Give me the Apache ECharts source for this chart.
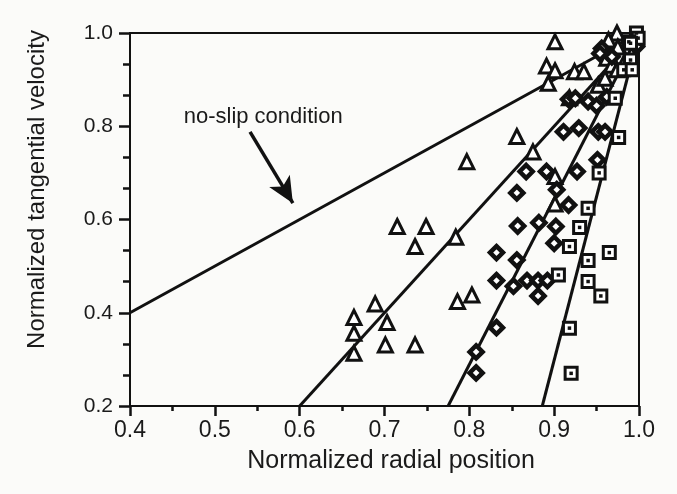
<!DOCTYPE html>
<html>
<head>
<meta charset="utf-8">
<script src="https://cdn.jsdelivr.net/npm/echarts@6/dist/echarts.min.js"></script>
<style>
  html, body { margin: 0; padding: 0; background: #fbfbf9; }
  #chart { width: 677px; height: 494px; }
</style>
</head>
<body>
<div id="chart"></div>
<script>
// axis ranges
const xRange = [0.4, 1.0]
const yRange = [0.2, 1.0]

// straight lines drawn through the data
const noSlipLine = [[0.4, 0.4], [1.0, 1.0]]
const fitLineA = [[0.6, 0.2], [1.0, 1.0]]
const fitLineB = [[0.775, 0.2], [1.0, 1.0]]
const fitLineC = [[0.886, 0.2], [1.0, 1.0]]

// measured points (open triangles)
const triangles = [
  [0.664, 0.390], [0.664, 0.356], [0.664, 0.313], [0.689, 0.419], [0.703, 0.379],
  [0.701, 0.331], [0.736, 0.331], [0.715, 0.585], [0.749, 0.585], [0.736, 0.542],
  [0.784, 0.562], [0.786, 0.424], [0.803, 0.438], [0.797, 0.724], [0.856, 0.778],
  [0.875, 0.745], [0.901, 0.692], [0.901, 0.633], [0.891, 0.929], [0.901, 0.919],
  [0.893, 0.892], [0.924, 0.917], [0.935, 0.917], [0.901, 0.981], [0.974, 1.0],
  [0.964, 0.985], [0.962, 0.946], [0.968, 0.931], [0.974, 0.921], [0.984, 0.942],
  [0.990, 0.931], [0.952, 0.888], [0.960, 0.903], [0.918, 0.861], [0.975, 0.970]
]

// measured points (diamonds)
const diamonds = [
  [0.917, 0.631], [0.857, 0.586], [0.882, 0.593], [0.902, 0.585], [0.900, 0.549],
  [0.832, 0.529], [0.856, 0.513], [0.832, 0.469], [0.852, 0.457], [0.868, 0.469],
  [0.881, 0.469], [0.892, 0.469], [0.881, 0.436], [0.832, 0.368], [0.808, 0.316],
  [0.808, 0.271], [0.911, 0.788], [0.929, 0.796], [0.867, 0.703], [0.856, 0.657],
  [0.891, 0.703], [0.927, 0.703], [0.951, 0.728], [0.952, 0.788], [0.960, 0.788],
  [0.903, 0.664], [0.917, 0.858], [0.925, 0.860], [0.940, 0.853], [0.950, 0.844],
  [0.962, 0.863], [0.956, 0.967], [0.968, 0.949], [0.997, 0.971], [0.954, 0.956]
]

// measured points (dotted squares)
const squares = [
  [0.930, 0.583], [0.918, 0.542], [0.965, 0.529], [0.940, 0.512], [0.905, 0.481],
  [0.940, 0.467], [0.955, 0.436], [0.918, 0.367], [0.920, 0.270], [0.976, 0.776],
  [0.953, 0.700], [0.940, 0.624], [0.972, 0.860], [0.997, 1.0], [0.999, 0.989],
  [0.988, 0.981], [0.990, 0.942], [0.982, 0.921], [0.992, 0.921], [0.990, 0.978]
]

// annotation
const noteText = "no-slip condition"
const notePos = [0.557, 0.82]
const arrowFrom = [0.5415, 0.788]
const arrowTo = [0.592, 0.635]

const ink = "#111"
const font = "Liberation Sans, Arial, Helvetica, sans-serif"

const lineSeries = data => ({
  type: "line",
  data: data,
  symbol: "none",
  silent: true,
  lineStyle: { color: ink, width: 3 },
  z: 2
})

const myChart = echarts.init(document.getElementById("chart"))
myChart.setOption({
  backgroundColor: "#fbfbf9",
  animation: false,
  grid: {
    left: 130, right: 38, top: 33, bottom: 88,
    show: true, borderColor: ink, borderWidth: 2, backgroundColor: "transparent"
  },
  xAxis: {
    type: "value",
    min: xRange[0], max: xRange[1], interval: 0.1,
    name: "Normalized radial position",
    nameLocation: "middle",
    nameGap: 43,
    nameTextStyle: { fontSize: 25, color: "#1a1a1a", fontFamily: font, padding: [0, 0, 0, 13] },
    axisLine: { lineStyle: { color: ink, width: 2 } },
    axisTick: { length: 10, lineStyle: { color: ink, width: 2.5 } },
    minorTick: { show: true, splitNumber: 2, length: 5, lineStyle: { color: ink, width: 2.5 } },
    splitLine: { show: false },
    axisLabel: {
      margin: 13, fontSize: 23, color: "#1a1a1a", fontFamily: font,
      formatter: v => v.toFixed(1)
    }
  },
  yAxis: {
    type: "value",
    min: yRange[0], max: yRange[1], interval: 0.2,
    name: "Normalized tangential velocity",
    nameLocation: "middle",
    nameGap: 81,
    nameTextStyle: { fontSize: 24, color: "#1a1a1a", fontFamily: font, padding: [0, 0, 0, 60] },
    axisLine: { lineStyle: { color: ink, width: 2 } },
    axisTick: { length: 11, lineStyle: { color: ink, width: 2.5 } },
    minorTick: { show: true, splitNumber: 3, length: 7, lineStyle: { color: ink, width: 2.5 } },
    splitLine: { show: false },
    axisLabel: {
      margin: 17, fontSize: 21, color: "#1a1a1a", fontFamily: font,
      formatter: v => v.toFixed(1)
    }
  },
  series: [
    lineSeries(noSlipLine),
    lineSeries(fitLineA),
    lineSeries(fitLineB),
    lineSeries(fitLineC),
    {
      type: "scatter",
      data: triangles,
      symbol: "triangle",
      symbolSize: 14,
      itemStyle: { color: "#fff", borderColor: ink, borderWidth: 3, opacity: 1 },
      z: 3
    },
    {
      type: "scatter",
      data: diamonds,
      symbol: "diamond",
      symbolSize: 13,
      itemStyle: { color: "#fff", borderColor: ink, borderWidth: 4.5, opacity: 1 },
      z: 3
    },
    {
      type: "scatter",
      data: squares,
      symbol: "rect",
      symbolSize: 12,
      itemStyle: { color: "#fff", borderColor: ink, borderWidth: 3, opacity: 1 },
      z: 3
    },
    {
      type: "scatter",
      data: squares,
      symbol: "rect",
      symbolSize: 3.5,
      itemStyle: { color: ink, opacity: 1 },
      z: 4
    },
    {
      type: "scatter",
      data: [],
      silent: true,
      markLine: {
        silent: true,
        symbol: ["none", "arrow"],
        symbolSize: [18, 26],
        label: { show: false },
        lineStyle: { color: ink, width: 3.5, type: "solid" },
        data: [[{ coord: arrowFrom }, { coord: arrowTo }]]
      },
      markPoint: {
        silent: true,
        symbol: "circle",
        symbolSize: 0,
        label: {
          show: true, position: "inside", formatter: noteText,
          fontSize: 22, color: "#1a1a1a", fontFamily: font
        },
        data: [{ coord: notePos }]
      }
    }
  ]
})
</script>
</body>
</html>
